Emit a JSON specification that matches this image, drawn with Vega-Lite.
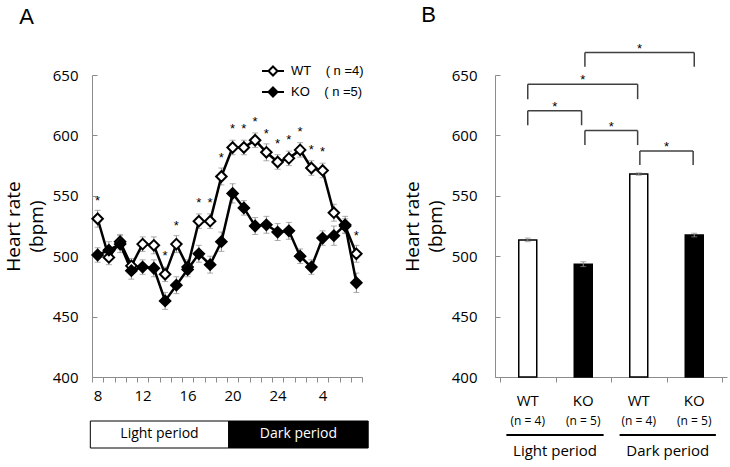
{
  "$schema": "https://vega.github.io/schema/vega-lite/v6.json",
  "padding": {"left": 4, "top": 3, "right": 2, "bottom": 2},
  "spacing": 34,
  "config": {
    "view": {"stroke": null},
    "font": "Open Sans",
    "axis": {"domainColor": "#8c8c8c", "tickColor": "#8c8c8c", "labelColor": "black", "labelFontSize": 15, "labelFont": "Open Sans", "titleFont": "Open Sans", "titleFontWeight": "normal", "titleColor": "black", "grid": false},
    "title": {"font": "Liberation Sans", "fontSize": 22, "fontWeight": "normal", "anchor": "start", "color": "black"}
  },
  "resolve": {"scale": {"fill": "independent"}, "legend": {"fill": "independent"}},
  "hconcat": [
    {
      "title": {"text": "A", "dx": 15, "offset": 30},
      "width": 270,
      "height": 302,
      "resolve": {"scale": {"x": "independent", "color": "independent"}},
      "layer": [
        {
          "data": {"values": [
            {"hour": 8, "group": "WT", "hr": 531, "sem": 7, "sig": 1},
            {"hour": 9, "group": "WT", "hr": 499, "sem": 6, "sig": 0},
            {"hour": 10, "group": "WT", "hr": 512, "sem": 6, "sig": 0},
            {"hour": 11, "group": "WT", "hr": 492, "sem": 6, "sig": 0},
            {"hour": 12, "group": "WT", "hr": 510, "sem": 6, "sig": 0},
            {"hour": 13, "group": "WT", "hr": 509, "sem": 7, "sig": 0},
            {"hour": 14, "group": "WT", "hr": 485, "sem": 6, "sig": 1},
            {"hour": 15, "group": "WT", "hr": 510, "sem": 7, "sig": 1},
            {"hour": 16, "group": "WT", "hr": 491, "sem": 6, "sig": 0},
            {"hour": 17, "group": "WT", "hr": 529, "sem": 6, "sig": 1},
            {"hour": 18, "group": "WT", "hr": 529, "sem": 6, "sig": 1},
            {"hour": 19, "group": "WT", "hr": 566, "sem": 7, "sig": 1},
            {"hour": 20, "group": "WT", "hr": 590, "sem": 6, "sig": 1},
            {"hour": 21, "group": "WT", "hr": 590, "sem": 6, "sig": 1},
            {"hour": 22, "group": "WT", "hr": 596, "sem": 6, "sig": 1},
            {"hour": 23, "group": "WT", "hr": 586, "sem": 7, "sig": 1},
            {"hour": 24, "group": "WT", "hr": 578, "sem": 6, "sig": 1},
            {"hour": 1, "group": "WT", "hr": 581, "sem": 6, "sig": 1},
            {"hour": 2, "group": "WT", "hr": 588, "sem": 6, "sig": 1},
            {"hour": 3, "group": "WT", "hr": 573, "sem": 6, "sig": 1},
            {"hour": 4, "group": "WT", "hr": 571, "sem": 6, "sig": 1},
            {"hour": 5, "group": "WT", "hr": 536, "sem": 7, "sig": 0},
            {"hour": 6, "group": "WT", "hr": 525, "sem": 6, "sig": 0},
            {"hour": 7, "group": "WT", "hr": 502, "sem": 7, "sig": 1},
            {"hour": 8, "group": "KO", "hr": 501, "sem": 6, "sig": 0},
            {"hour": 9, "group": "KO", "hr": 505, "sem": 7, "sig": 0},
            {"hour": 10, "group": "KO", "hr": 510, "sem": 7, "sig": 0},
            {"hour": 11, "group": "KO", "hr": 488, "sem": 7, "sig": 0},
            {"hour": 12, "group": "KO", "hr": 491, "sem": 6, "sig": 0},
            {"hour": 13, "group": "KO", "hr": 490, "sem": 7, "sig": 0},
            {"hour": 14, "group": "KO", "hr": 463, "sem": 7, "sig": 0},
            {"hour": 15, "group": "KO", "hr": 476, "sem": 7, "sig": 0},
            {"hour": 16, "group": "KO", "hr": 489, "sem": 6, "sig": 0},
            {"hour": 17, "group": "KO", "hr": 502, "sem": 7, "sig": 0},
            {"hour": 18, "group": "KO", "hr": 493, "sem": 7, "sig": 0},
            {"hour": 19, "group": "KO", "hr": 512, "sem": 8, "sig": 0},
            {"hour": 20, "group": "KO", "hr": 552, "sem": 8, "sig": 0},
            {"hour": 21, "group": "KO", "hr": 540, "sem": 6, "sig": 0},
            {"hour": 22, "group": "KO", "hr": 525, "sem": 7, "sig": 0},
            {"hour": 23, "group": "KO", "hr": 526, "sem": 7, "sig": 0},
            {"hour": 24, "group": "KO", "hr": 520, "sem": 7, "sig": 0},
            {"hour": 1, "group": "KO", "hr": 521, "sem": 7, "sig": 0},
            {"hour": 2, "group": "KO", "hr": 500, "sem": 6, "sig": 0},
            {"hour": 3, "group": "KO", "hr": 491, "sem": 6, "sig": 0},
            {"hour": 4, "group": "KO", "hr": 515, "sem": 6, "sig": 0},
            {"hour": 5, "group": "KO", "hr": 517, "sem": 8, "sig": 0},
            {"hour": 6, "group": "KO", "hr": 526, "sem": 7, "sig": 0},
            {"hour": 7, "group": "KO", "hr": 478, "sem": 8, "sig": 0}
          ]},
          "layer": [
            {
              "mark": {"type": "errorbar", "color": "#8c8c8c", "thickness": 1, "ticks": {"size": 6, "color": "#8c8c8c", "thickness": 1}},
              "encoding": {
                "x": {"field": "hour", "type": "ordinal", "sort": [8,9,10,11,12,13,14,15,16,17,18,19,20,21,22,23,24,1,2,3,4,5,6,7], "scale": {"paddingInner": 0, "paddingOuter": 0}, "title": null,
                  "axis": {"labelAngle": 0, "tickBand": "extent", "tickSize": 5, "labelPadding": 6, "labelOverlap": false, "labelExpr": "indexof([8,12,16,20,24,4], datum.value) >= 0 ? datum.label : ''"}},
                "y": {"field": "hr", "type": "quantitative", "scale": {"domain": [400, 650], "nice": false, "zero": false}, "title": ["Heart rate", "(bpm)"],
                  "axis": {"values": [400, 450, 500, 550, 600, 650], "tickSize": -5, "labelPadding": 19, "titlePadding": 6, "titleFontSize": 19, "titleLineHeight": 23}},
                "yError": {"field": "sem"},
                "detail": {"field": "group"}
              }
            },
            {
              "mark": {"type": "line", "color": "black", "strokeWidth": 2.5},
              "encoding": {
                "x": {"field": "hour", "type": "ordinal", "sort": [8,9,10,11,12,13,14,15,16,17,18,19,20,21,22,23,24,1,2,3,4,5,6,7], "title": null},
                "y": {"field": "hr", "type": "quantitative", "title": ["Heart rate", "(bpm)"]},
                "detail": {"field": "group"}
              }
            },
            {
              "mark": {"type": "point", "shape": "diamond", "filled": true, "size": 110, "stroke": "black", "strokeWidth": 2, "opacity": 1},
              "encoding": {
                "x": {"field": "hour", "type": "ordinal", "sort": [8,9,10,11,12,13,14,15,16,17,18,19,20,21,22,23,24,1,2,3,4,5,6,7], "title": null},
                "y": {"field": "hr", "type": "quantitative", "title": ["Heart rate", "(bpm)"]},
                "fill": {"field": "group", "type": "nominal", "scale": {"domain": ["WT", "KO"], "range": ["white", "black"]},
                  "legend": {"orient": "none", "legendX": 169, "legendY": -16, "title": null, "padding": 0, "rowPadding": 0,
                    "symbolType": "M-1,0L-0.41,0M0.41,0L1,0M0,-0.41L0.41,0L0,0.41L-0.41,0Z", "symbolSize": 484,
                    "symbolStrokeColor": "black", "symbolStrokeWidth": 2, "symbolOpacity": 1,
                    "labelFont": "Liberation Sans", "labelFontSize": 13, "labelColor": "black", "labelOffset": 6,
                    "labelExpr": "datum.label == 'WT' ? 'WT\u00a0\u00a0\u00a0\u00a0( n =4)' : 'KO\u00a0\u00a0\u00a0\u00a0( n =5)'"}}
              }
            },
            {
              "transform": [{"filter": "datum.sig == 1"}],
              "mark": {"type": "text", "text": "*", "font": "Liberation Sans", "fontSize": 13, "dy": -18, "color": "black"},
              "encoding": {
                "x": {"field": "hour", "type": "ordinal", "sort": [8,9,10,11,12,13,14,15,16,17,18,19,20,21,22,23,24,1,2,3,4,5,6,7], "title": null},
                "y": {"field": "hr", "type": "quantitative", "title": ["Heart rate", "(bpm)"]}
              }
            }
          ]
        },
        {
          "data": {"values": [
            {"period": "Light period", "start": -0.15, "end": 12.15},
            {"period": "Dark period", "start": 12.15, "end": 24.55}
          ]},
          "transform": [{"calculate": "(datum.start + datum.end) / 2", "as": "mid"}],
          "layer": [
            {
              "mark": {"type": "rect", "stroke": "black", "strokeWidth": 1, "yOffset": 44, "y2Offset": 71},
              "encoding": {
                "x": {"field": "start", "type": "quantitative", "scale": {"domain": [0, 24], "nice": false, "zero": false}, "axis": null},
                "x2": {"field": "end"},
                "y": {"datum": 400, "type": "quantitative"},
                "y2": {"datum": 400},
                "color": {"field": "period", "type": "nominal", "scale": {"domain": ["Light period", "Dark period"], "range": ["white", "black"]}, "legend": null}
              }
            },
            {
              "transform": [{"filter": "datum.period == 'Light period'"}],
              "mark": {"type": "text", "fontSize": 14, "dy": 57, "color": "black", "baseline": "middle"},
              "encoding": {
                "x": {"field": "mid", "type": "quantitative", "axis": null},
                "y": {"datum": 400, "type": "quantitative"},
                "text": {"field": "period"}
              }
            },
            {
              "transform": [{"filter": "datum.period == 'Dark period'"}],
              "mark": {"type": "text", "fontSize": 14, "dy": 57, "color": "white", "baseline": "middle"},
              "encoding": {
                "x": {"field": "mid", "type": "quantitative", "axis": null},
                "y": {"datum": 400, "type": "quantitative"},
                "text": {"field": "period"}
              }
            }
          ]
        }
      ]
    },
    {
      "title": {"text": "B", "dx": 18, "offset": 16},
      "width": 232,
      "height": 302,
      "layer": [
        {
          "data": {"values": [
            {"pos": 1, "group": "WT", "n": "(n = 4)", "hr": 513.5, "sem": 1.5},
            {"pos": 2, "group": "KO", "n": "(n = 5)", "hr": 493.4, "sem": 2},
            {"pos": 3, "group": "WT", "n": "(n = 4)", "hr": 568, "sem": 1},
            {"pos": 4, "group": "KO", "n": "(n = 5)", "hr": 517.5, "sem": 1.5}
          ]},
          "layer": [
            {
              "mark": {"type": "bar", "width": 18, "stroke": "black", "strokeWidth": 1.5},
              "encoding": {
                "x": {"field": "pos", "type": "quantitative", "scale": {"domain": [0.5, 4.5], "nice": false, "zero": false}, "title": null,
                  "axis": {"values": [0.5, 1.5, 2.5, 3.5, 4.5], "labels": false, "tickSize": 5}},
                "y": {"field": "hr", "type": "quantitative", "scale": {"domain": [400, 650], "nice": false, "zero": false}, "title": ["Heart rate", "(bpm)"],
                  "axis": {"values": [400, 450, 500, 550, 600, 650], "tickSize": -5, "labelPadding": 23, "titlePadding": 6, "titleFontSize": 19, "titleLineHeight": 23}},
                "y2": {"datum": 400},
                "fill": {"field": "group", "type": "nominal", "scale": {"domain": ["WT", "KO"], "range": ["white", "black"]}, "legend": null}
              }
            },
            {
              "mark": {"type": "errorbar", "color": "#8c8c8c", "thickness": 1, "ticks": {"size": 6, "color": "#8c8c8c", "thickness": 1}},
              "encoding": {
                "x": {"field": "pos", "type": "quantitative", "title": null},
                "y": {"field": "hr", "type": "quantitative", "title": ["Heart rate", "(bpm)"]},
                "yError": {"field": "sem"}
              }
            },
            {
              "mark": {"type": "text", "fontSize": 15, "dy": 24, "baseline": "middle", "color": "black"},
              "encoding": {
                "x": {"field": "pos", "type": "quantitative", "title": null},
                "y": {"datum": 400, "type": "quantitative"},
                "text": {"field": "group"}
              }
            },
            {
              "mark": {"type": "text", "fontSize": 12, "dy": 44, "baseline": "middle", "color": "black"},
              "encoding": {
                "x": {"field": "pos", "type": "quantitative", "title": null},
                "y": {"datum": 400, "type": "quantitative"},
                "text": {"field": "n"}
              }
            }
          ]
        },
        {
          "data": {"values": [
            {"from": 1, "to": 1.97, "top": 620.5, "bot": 608.4},
            {"from": 1, "to": 2.98, "top": 642.4, "bot": 630},
            {"from": 2.03, "to": 2.98, "top": 604, "bot": 592},
            {"from": 3.02, "to": 3.98, "top": 587, "bot": 575.6},
            {"from": 2.03, "to": 4, "top": 668.6, "bot": 656.8}
          ]},
          "transform": [{"calculate": "(datum.from + datum.to) / 2", "as": "mid"}],
          "layer": [
            {
              "mark": {"type": "rule", "color": "#404040", "strokeWidth": 1.5},
              "encoding": {
                "x": {"field": "from", "type": "quantitative", "title": null},
                "x2": {"field": "to"},
                "y": {"field": "top", "type": "quantitative", "title": ["Heart rate", "(bpm)"]}
              }
            },
            {
              "mark": {"type": "rule", "color": "#404040", "strokeWidth": 1.5},
              "encoding": {
                "x": {"field": "from", "type": "quantitative", "title": null},
                "y": {"field": "bot", "type": "quantitative", "title": ["Heart rate", "(bpm)"]},
                "y2": {"field": "top"}
              }
            },
            {
              "mark": {"type": "rule", "color": "#404040", "strokeWidth": 1.5},
              "encoding": {
                "x": {"field": "to", "type": "quantitative", "title": null},
                "y": {"field": "bot", "type": "quantitative", "title": ["Heart rate", "(bpm)"]},
                "y2": {"field": "top"}
              }
            },
            {
              "mark": {"type": "text", "text": "*", "font": "Liberation Sans", "fontSize": 13, "dy": -4, "color": "black"},
              "encoding": {
                "x": {"field": "mid", "type": "quantitative", "title": null},
                "y": {"field": "top", "type": "quantitative", "title": ["Heart rate", "(bpm)"]}
              }
            }
          ]
        },
        {
          "data": {"values": [
            {"period": "Light period", "start": 0.615, "end": 2.367},
            {"period": "Dark period", "start": 2.655, "end": 4.39}
          ]},
          "transform": [{"calculate": "(datum.start + datum.end) / 2", "as": "mid"}],
          "layer": [
            {
              "mark": {"type": "rule", "color": "black", "strokeWidth": 2, "yOffset": 58},
              "encoding": {
                "x": {"field": "start", "type": "quantitative", "title": null},
                "x2": {"field": "end"},
                "y": {"datum": 400, "type": "quantitative"}
              }
            },
            {
              "mark": {"type": "text", "fontSize": 15, "dy": 74, "baseline": "middle", "color": "black"},
              "encoding": {
                "x": {"field": "mid", "type": "quantitative", "title": null},
                "y": {"datum": 400, "type": "quantitative"},
                "text": {"field": "period"}
              }
            }
          ]
        }
      ]
    }
  ]
}
